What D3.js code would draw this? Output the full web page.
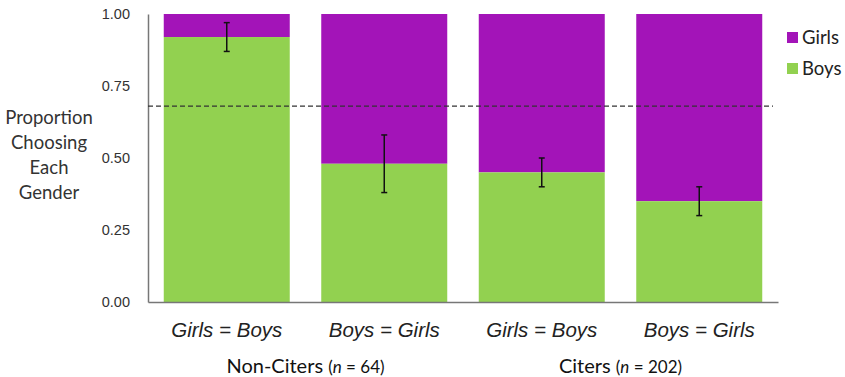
<!DOCTYPE html>
<html>
<head>
<meta charset="utf-8">
<script src="https://cdn.jsdelivr.net/npm/d3@7"></script>
<style>
  body { margin: 0; background: #fff; }
  svg { font-family: Lato, 'Open Sans', sans-serif; }
</style>
</head>
<body>
<svg></svg>
<script>
'use strict';
// data
var conditions = ['Girls = Boys', 'Boys = Girls', 'Girls = Boys', 'Boys = Girls'];
var boys = [0.92, 0.48, 0.45, 0.35];
var errLow = [0.87, 0.38, 0.40, 0.30];
var errHigh = [0.97, 0.58, 0.50, 0.40];
var groups = ['Non-Citers', 'Citers'];
var groupN = [64, 202];
var chance = 0.68;
var yTicks = [0, 0.25, 0.5, 0.75, 1];

var canvasWidth = 845;
var canvasHeight = 377;
var margin = { top: 14, right: 67, bottom: 75, left: 148 };
var width = canvasWidth - margin.left - margin.right;
var height = canvasHeight - margin.top - margin.bottom;

var purple = '#a314b8';
var green = '#92d150';

var svg = d3.select('svg')
  .attr('width', canvasWidth)
  .attr('height', canvasHeight);
var g = svg.append('g')
  .attr('transform', 'translate(' + margin.left + ',' + margin.top + ')');

var xScale = d3.scaleBand()
  .domain(d3.range(conditions.length))
  .range([0, width])
  .paddingInner(0.2)
  .paddingOuter(0.1);
var yScale = d3.scaleLinear().domain([0, 1]).range([height, 0]);

// girls (full bar) then boys on top
g.selectAll('rect.girls').data(boys)
  .enter().append('rect')
  .attr('class', 'girls')
  .attr('x', function(d, i) { return xScale(i); })
  .attr('width', xScale.bandwidth())
  .attr('y', yScale(1))
  .attr('height', function(d) { return yScale(d) - yScale(1); })
  .attr('fill', purple);

g.selectAll('rect.boys').data(boys)
  .enter().append('rect')
  .attr('class', 'boys')
  .attr('x', function(d, i) { return xScale(i); })
  .attr('width', xScale.bandwidth())
  .attr('y', function(d) { return yScale(d); })
  .attr('height', function(d) { return yScale(0) - yScale(d); })
  .attr('fill', green);

// axes (lines only, no ticks)
var yAxis = g.append('g')
  .call(d3.axisLeft(yScale).tickValues(yTicks).tickFormat(d3.format('.2f')).tickSize(0).tickPadding(18));
yAxis.select('.domain').attr('stroke', '#777').attr('stroke-width', 1.5);
yAxis.selectAll('text').attr('font-size', 14.5).attr('fill', '#333');

var xAxis = g.append('g')
  .attr('transform', 'translate(0,' + height + ')')
  .call(d3.axisBottom(xScale).tickSize(0).tickFormat(function(i) { return conditions[i]; }).tickPadding(20));
xAxis.select('.domain').attr('stroke', '#777').attr('stroke-width', 1.5);
xAxis.selectAll('text').attr('font-size', 20.5).attr('font-style', 'italic').attr('fill', '#222');

// chance line
g.append('line')
  .attr('x1', 0)
  .attr('x2', width - 5)
  .attr('y1', yScale(chance))
  .attr('y2', yScale(chance))
  .attr('stroke', '#333')
  .attr('stroke-width', 1.4)
  .attr('stroke-dasharray', '5,3');

// error bars
var eb = g.selectAll('g.err').data(boys)
  .enter().append('g')
  .attr('class', 'err')
  .attr('transform', function(d, i) { return 'translate(' + (xScale(i) + xScale.bandwidth() / 2) + ',0)'; });
eb.append('line')
  .attr('y1', function(d, i) { return yScale(errHigh[i]); })
  .attr('y2', function(d, i) { return yScale(errLow[i]); })
  .attr('stroke', '#111').attr('stroke-width', 1.5);
eb.append('line')
  .attr('x1', -3).attr('x2', 3)
  .attr('y1', function(d, i) { return yScale(errHigh[i]); })
  .attr('y2', function(d, i) { return yScale(errHigh[i]); })
  .attr('stroke', '#111').attr('stroke-width', 1.5);
eb.append('line')
  .attr('x1', -3).attr('x2', 3)
  .attr('y1', function(d, i) { return yScale(errLow[i]); })
  .attr('y2', function(d, i) { return yScale(errLow[i]); })
  .attr('stroke', '#111').attr('stroke-width', 1.5);

// group labels
groups.forEach(function(name, k) {
  var cx = (xScale(k * 2) + xScale(k * 2 + 1) + xScale.bandwidth()) / 2;
  var t = g.append('text')
    .attr('x', cx)
    .attr('y', height + 71)
    .attr('text-anchor', 'middle')
    .attr('font-size', 20)
    .attr('fill', '#111');
  t.append('tspan').text(name + ' ');
  t.append('tspan').attr('font-size', 17).text('(');
  t.append('tspan').attr('font-size', 17).attr('font-style', 'italic').text('n');
  t.append('tspan').attr('font-size', 17).text(' = ' + groupN[k] + ')');
});

// y title
var title = ['Proportion', 'Choosing', 'Each', 'Gender'];
svg.append('text')
  .attr('x', 49)
  .attr('y', 124)
  .attr('text-anchor', 'middle')
  .attr('font-size', 18.5)
  .attr('fill', '#333')
  .selectAll('tspan').data(title)
  .enter().append('tspan')
  .attr('x', 49)
  .attr('dy', function(d, i) { return i === 0 ? 0 : 25; })
  .text(function(d) { return d; });

// legend
var legend = svg.append('g').attr('transform', 'translate(787,32)');
[['Girls', purple], ['Boys', green]].forEach(function(item, i) {
  legend.append('rect')
    .attr('x', 0).attr('y', i * 31)
    .attr('width', 11).attr('height', 11)
    .attr('fill', item[1]);
  legend.append('text')
    .attr('x', 15).attr('y', i * 31 + 12)
    .attr('font-size', 18.5)
    .attr('fill', '#222')
    .text(item[0]);
});
</script>
</body>
</html>
